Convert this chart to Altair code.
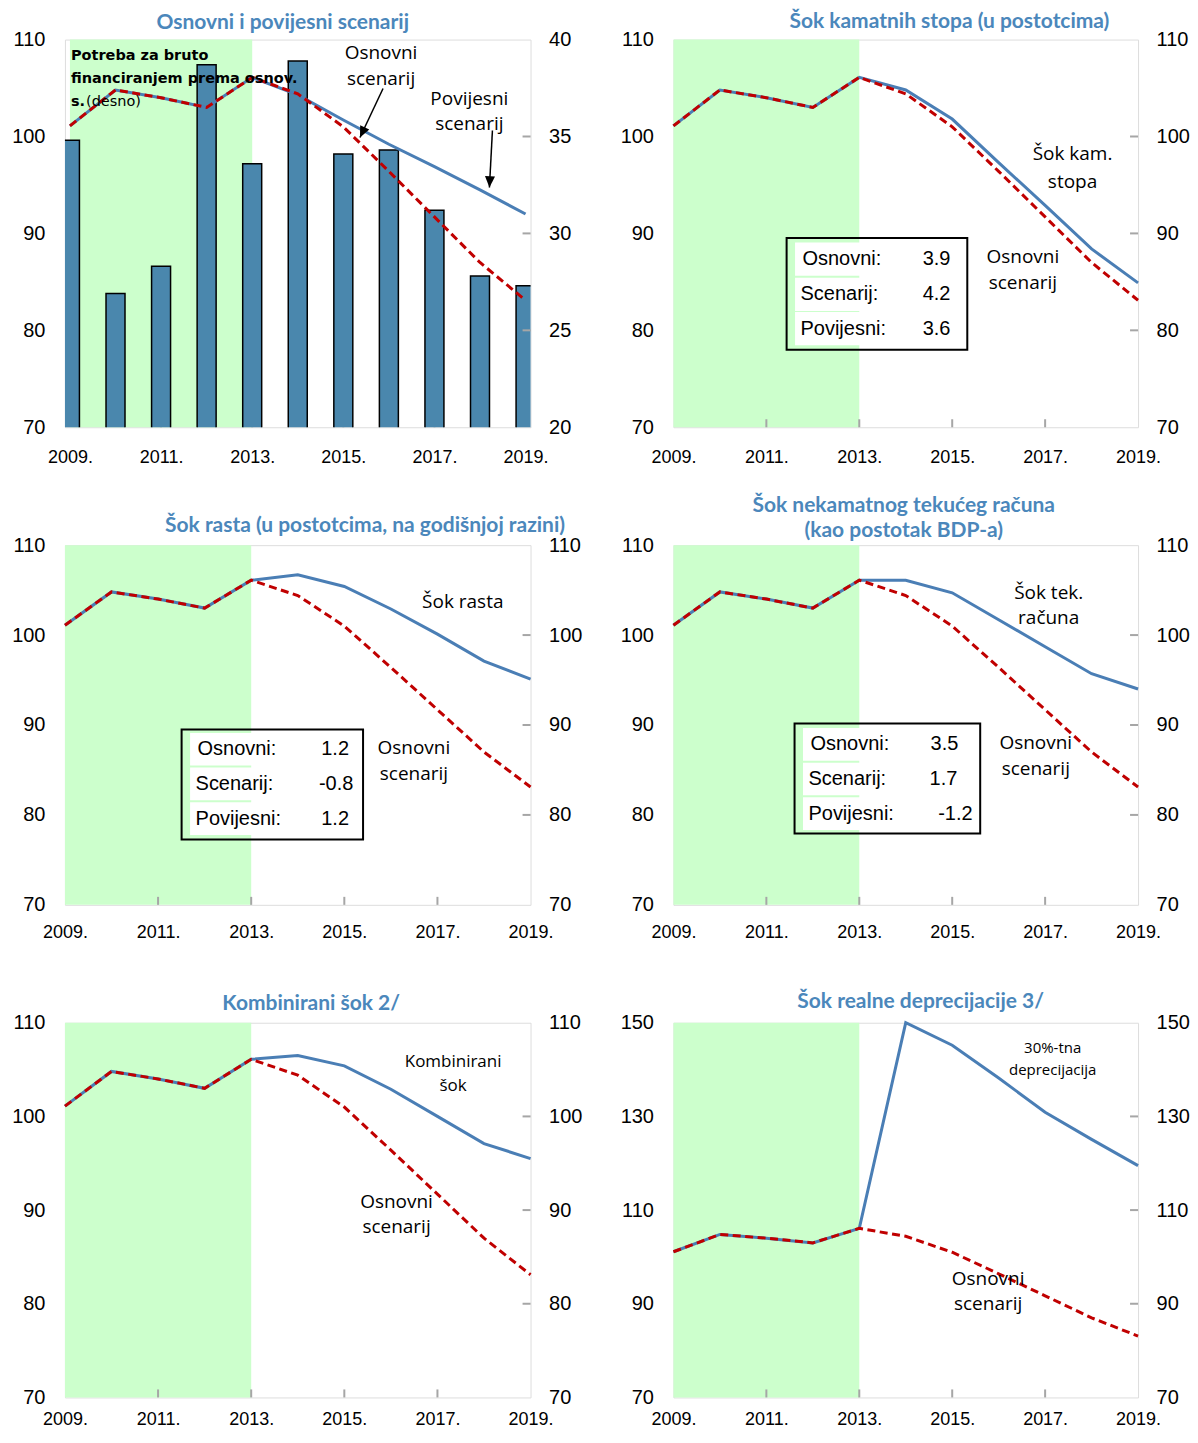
import math
import altair as alt
import pandas as pd

# ---------------- data ----------------
YEARS = [2009, 2010, 2011, 2012, 2013, 2014, 2015, 2016, 2017, 2018, 2019]
BASELINE = [101.1, 104.8, 104.0, 103.0, 106.1, 104.4, 101.0, 96.4, 91.7, 87.0, 83.1]
HISTORICAL = [101.1, 104.8, 104.0, 103.0, 106.1, 104.3, 101.7, 99.2, 96.9, 94.5, 92.0]
GROSS_FIN_NEEDS = [34.8, 26.9, 28.3, 38.7, 33.6, 38.9, 34.1, 34.3, 31.2, 27.8, 27.3]
INTEREST_SHOCK = [101.1, 104.8, 104.0, 103.0, 106.1, 104.8, 101.8, 97.3, 92.9, 88.4, 84.9]
GROWTH_SHOCK = [101.1, 104.8, 104.0, 103.0, 106.1, 106.7, 105.4, 102.9, 100.1, 97.1, 95.1]
CURRENT_ACCOUNT_SHOCK = [101.1, 104.8, 104.0, 103.0, 106.1, 106.1, 104.7, 101.7, 98.7, 95.7, 94.0]
COMBINED_SHOCK = [101.1, 104.8, 104.0, 103.0, 106.1, 106.5, 105.4, 102.9, 100.0, 97.1, 95.5]
DEPRECIATION_SHOCK = [101.1, 104.8, 104.0, 103.0, 106.1, 150.0, 145.2, 138.2, 130.9, 125.1, 119.5]

SHADE_START, SHADE_END = 2009, 2013
X_LABEL_YEARS = [2009, 2011, 2013, 2015, 2017, 2019]
X_INNER_TICKS = [2011, 2013, 2015, 2017]
LEFT_TICKS = [70, 80, 90, 100, 110]
GFN_TICKS = [20, 25, 30, 35, 40]
DEP_TICKS = [70, 90, 110, 130, 150]

TITLES = [
    "Osnovni i povijesni scenarij",
    "Šok kamatnih stopa (u postotcima)",
    "Šok rasta (u postotcima, na godišnjoj razini)",
    ["Šok nekamatnog tekućeg računa", "(kao postotak BDP-a)"],
    "Kombinirani šok 2/",
    "Šok realne deprecijacije 3/",
]
BOX_LABELS = ["Osnovni:", "Scenarij:", "Povijesni:"]
INTEREST_BOX = ["3.9", "4.2", "3.6"]
GROWTH_BOX = ["1.2", "-0.8", "1.2"]
CA_BOX = ["3.5", "1.7", "-1.2"]

# ---------------- styles ----------------
LINE_BLUE = "#4a7eb5"
RED = "#c00000"
GREEN = "#ccffcc"
BAR_FILL = "#4a87ad"
FRAME = "#a6a6a6"
TITLE_BLUE = "#4b87bb"
AXIS_FONT = "Liberation Sans"
NOTE_FONT = "Open Sans"
TITLE_FONT = "Lato"
BOX_FONT = "Liberation Sans"
ONE = alt.Data(values=[{"k": 0}])


def x_enc(pad=17):
    return alt.X("year:Q", scale=alt.Scale(domain=[2009, 2019], nice=False, zero=False),
                 axis=alt.Axis(values=X_LABEL_YEARS, labelExpr="datum.value + '.'", title=None,
                               ticks=False, domain=False, grid=False, labelFlush=False,
                               labelOverlap=False, labelPadding=pad, labelFont=AXIS_FONT,
                               labelFontSize=18, labelColor="black"))


def y_enc(field, dom, ticks, orient):
    return alt.Y(f"{field}:Q", scale=alt.Scale(domain=dom, nice=False, zero=False),
                 axis=alt.Axis(values=ticks, orient=orient, title=None, ticks=False, domain=False,
                               grid=False, labelOverlap=False,
                               labelPadding=20 if orient == "left" else 18,
                               labelFont=AXIS_FONT, labelFontSize=20, labelColor="black"))


class Geo:
    def __init__(self, W, H, ref, xpad=17):
        self.W, self.H, self.ref, self.xpad = W, H, ref, xpad

    def p(self, x, y):
        L, T, R, B = self.ref
        return (x - L) / (R - L) * self.W, (y - T) / (B - T) * self.H


def text(g, s, x, y, size, font, weight="normal", color="black", align="center"):
    px, py = g.p(x, y)
    return alt.Chart(ONE).mark_text(text=s, font=font, fontSize=size, fontWeight=weight,
                                    color=color, align=align, baseline="middle").encode(
        x=alt.value(px), y=alt.value(py))


def rect(g, x1, y1, x2, y2, **kw):
    a, b = g.p(x1, y1)
    c, d = g.p(x2, y2)
    return alt.Chart(ONE).mark_rect(**kw).encode(
        x=alt.value(a), x2=alt.value(c), y=alt.value(b), y2=alt.value(d))


def arrow(g, x1, y1, x2, y2):
    a, b = g.p(x1, y1)
    c, d = g.p(x2, y2)
    ang = math.degrees(math.atan2(-(c - a), d - b)) % 360
    line = alt.Chart(ONE).mark_rule(color="black", strokeWidth=1.5).encode(
        x=alt.value(a), y=alt.value(b), x2=alt.value(c), y2=alt.value(d))
    head = alt.Chart(ONE).mark_point(shape="M0,0L-0.45,-1L0.45,-1Z", filled=True, color="black",
                                     opacity=1, size=500, angle=ang, strokeWidth=0).encode(
        x=alt.value(c), y=alt.value(d))
    return [line, head]


def title_layers(g, title, pos):
    if isinstance(title, list):
        return [text(g, t, x, y, 21, TITLE_FONT, "bold", TITLE_BLUE) for t, (x, y) in zip(title, pos)]
    return [text(g, title, pos[0][0], pos[0][1], 21, TITLE_FONT, "bold", TITLE_BLUE)]


def box_layers(g, box, label_x, row_y, values, value_x):
    x1, y1, x2, y2 = box
    out = []
    for ry in row_y:
        out.append(rect(g, x1 + 8.5, ry - 16.5, x1 + 103, ry + 16.5, color="white"))
    out.append(rect(g, x1, y1, x2, y2, fill="white", fillOpacity=0, stroke="black", strokeWidth=2))
    for lab, lx, ry in zip(BOX_LABELS, label_x, row_y):
        out.append(text(g, lab, lx, ry, 20, BOX_FONT, align="left"))
    for v, vx, ry in zip(values, value_x, row_y):
        out.append(text(g, v, vx, ry, 20, BOX_FONT))
    return out


def base_layers(g):
    shade = alt.Chart(pd.DataFrame({"year": [SHADE_START], "year2": [SHADE_END]})).mark_rect(
        color=GREEN).encode(x=x_enc(g.xpad), x2="year2:Q", y=alt.value(0), y2=alt.value(g.H))
    xt = alt.Chart(pd.DataFrame({"year": X_INNER_TICKS})).mark_rule(color=FRAME, strokeWidth=2).encode(
        x=x_enc(g.xpad), y=alt.value(g.H), y2=alt.value(g.H - 8))
    return [shade, xt]


def right_ticks(g, dom, ticks):
    return alt.Chart(pd.DataFrame({"v": ticks[1:-1]})).mark_rule(color=FRAME, strokeWidth=2).encode(
        y=y_enc("v", dom, ticks, "right"), x=alt.value(g.W - 8), x2=alt.value(g.W))


def lines_layer(g, shock, dom, ticks):
    df = pd.DataFrame({"year": YEARS, "shock": shock, "base": BASELINE})
    blue = alt.Chart(df).mark_line(color=LINE_BLUE, strokeWidth=3).encode(
        x=x_enc(g.xpad), y=y_enc("shock", dom, ticks, "left"))
    red = alt.Chart(df).mark_line(color=RED, strokeWidth=3, strokeDash=[8, 4.5]).encode(
        x=x_enc(g.xpad), y=y_enc("base", dom, ticks, "left"))
    return alt.layer(blue, red)


def finish(g, layers):
    return alt.layer(*layers).resolve_scale(y="independent").properties(width=g.W, height=g.H)


W1, W2 = 466, 465

# ---------------- panel 1 ----------------
g1 = Geo(W1, 388, (68, 39, 532, 427), xpad=21)
bars_df = pd.DataFrame({"year": YEARS, "gfn": GROSS_FIN_NEEDS})
bars = alt.Chart(bars_df).mark_bar(size=19, color=BAR_FILL, stroke="black", strokeWidth=1.5,
                                   clip=True).encode(
    x=x_enc(g1.xpad), y=y_enc("gfn", [20, 40], GFN_TICKS, "right"), y2=alt.value(g1.H))
p1 = finish(g1, base_layers(g1) + [
    alt.layer(bars, right_ticks(g1, [20, 40], GFN_TICKS)),
    lines_layer(g1, HISTORICAL, [70, 110], LEFT_TICKS),
    text(g1, "Potreba za bruto", 74, 55, 14.5, "DejaVu Sans", "bold", align="left"),
    text(g1, "financiranjem  prema osnov.", 74, 78, 14.5, "DejaVu Sans", "bold", align="left"),
    text(g1, "s.", 74, 101, 14.5, "DejaVu Sans", "bold", align="left"),
    text(g1, "(desno)", 89, 101, 14.5, "DejaVu Sans", align="left"),
    text(g1, "Osnovni", 383, 52, 19, NOTE_FONT),
    text(g1, "scenarij", 383, 78, 19, NOTE_FONT),
    text(g1, "Povijesni", 471, 98, 19, NOTE_FONT),
    text(g1, "scenarij", 471, 124, 19, NOTE_FONT),
] + arrow(g1, 385, 88, 362, 137) + arrow(g1, 494, 130, 491, 187)
    + title_layers(g1, TITLES[0], [(285, 22)]))

# ---------------- panel 2 ----------------
g2 = Geo(W2, 388, (673, 39, 1141, 424), xpad=21)
p2 = finish(g2, base_layers(g2) + [
    lines_layer(g2, INTEREST_SHOCK, [70, 110], LEFT_TICKS),
    right_ticks(g2, [70, 110], LEFT_TICKS),
    text(g2, "Šok kam.", 1075, 153, 19, NOTE_FONT),
    text(g2, "stopa", 1075, 180, 19, NOTE_FONT),
    text(g2, "Osnovni", 1025, 255, 19, NOTE_FONT),
    text(g2, "scenarij", 1025, 281, 19, NOTE_FONT),
] + box_layers(g2, (787, 236, 969, 347), [803, 801, 801], [257, 292, 326], INTEREST_BOX,
               [938, 938, 938])
    + title_layers(g2, TITLES[1], [(951, 22)]))

# ---------------- panel 3 ----------------
g3 = Geo(W1, 360, (62, 551, 529, 914), xpad=19)
p3 = finish(g3, base_layers(g3) + [
    lines_layer(g3, GROWTH_SHOCK, [70, 110], LEFT_TICKS),
    right_ticks(g3, [70, 110], LEFT_TICKS),
    text(g3, "Šok rasta", 461, 608, 19, NOTE_FONT),
    text(g3, "Osnovni", 412, 756, 19, NOTE_FONT),
    text(g3, "scenarij", 412, 782, 19, NOTE_FONT),
] + box_layers(g3, (179, 737, 361, 848), [195, 193, 193], [757, 792, 827], GROWTH_BOX,
               [333, 334, 333])
    + title_layers(g3, TITLES[2], [(363, 532)]))

# ---------------- panel 4 ----------------
g4 = Geo(W2, 360, (673, 551, 1141, 914), xpad=19)
p4 = finish(g4, base_layers(g4) + [
    lines_layer(g4, CURRENT_ACCOUNT_SHOCK, [70, 110], LEFT_TICKS),
    right_ticks(g4, [70, 110], LEFT_TICKS),
    text(g4, "Šok tek.", 1051, 599, 19, NOTE_FONT),
    text(g4, "računa", 1051, 625, 19, NOTE_FONT),
    text(g4, "Osnovni", 1038, 751, 19, NOTE_FONT),
    text(g4, "scenarij", 1038, 777, 19, NOTE_FONT),
] + box_layers(g4, (795, 731, 982, 842), [811, 809, 809], [752, 787, 822], CA_BOX,
               [946, 945, 957])
    + title_layers(g4, TITLES[3], [(905, 511), (905, 537)]))

# ---------------- panel 5 ----------------
g5 = Geo(W1, 375, (60, 1019, 529, 1403), xpad=13)
p5 = finish(g5, base_layers(g5) + [
    lines_layer(g5, COMBINED_SHOCK, [70, 110], LEFT_TICKS),
    right_ticks(g5, [70, 110], LEFT_TICKS),
    text(g5, "Kombinirani", 451, 1059, 17, NOTE_FONT),
    text(g5, "šok", 451, 1084, 17, NOTE_FONT),
    text(g5, "Osnovni", 394, 1203, 19, NOTE_FONT),
    text(g5, "scenarij", 394, 1228, 19, NOTE_FONT),
] + title_layers(g5, TITLES[4], [(308, 1000)]))

# ---------------- panel 6 ----------------
g6 = Geo(W2, 375, (673, 1021, 1141, 1400), xpad=13)
p6 = finish(g6, base_layers(g6) + [
    lines_layer(g6, DEPRECIATION_SHOCK, [70, 150], DEP_TICKS),
    right_ticks(g6, [70, 150], DEP_TICKS),
    text(g6, "30%-tna", 1055, 1047, 15, NOTE_FONT),
    text(g6, "deprecijacija", 1055, 1069, 15, NOTE_FONT),
    text(g6, "Osnovni", 990, 1280, 19, NOTE_FONT),
    text(g6, "scenarij", 990, 1306, 19, NOTE_FONT),
] + title_layers(g6, TITLES[5], [(922, 1000)]))

chart = alt.concat(
    p1, p2, p3, p4, p5, p6, columns=2,
    spacing={"row": 118, "column": 673 - 64 - W1}, bounds="flush", align="each",
    padding={"left": 3, "top": 2, "right": 0, "bottom": 0},
).configure_view(stroke=FRAME, strokeWidth=2).configure(background="white")

chart.save("out.html", embed_options={"renderer": "svg", "actions": False})
